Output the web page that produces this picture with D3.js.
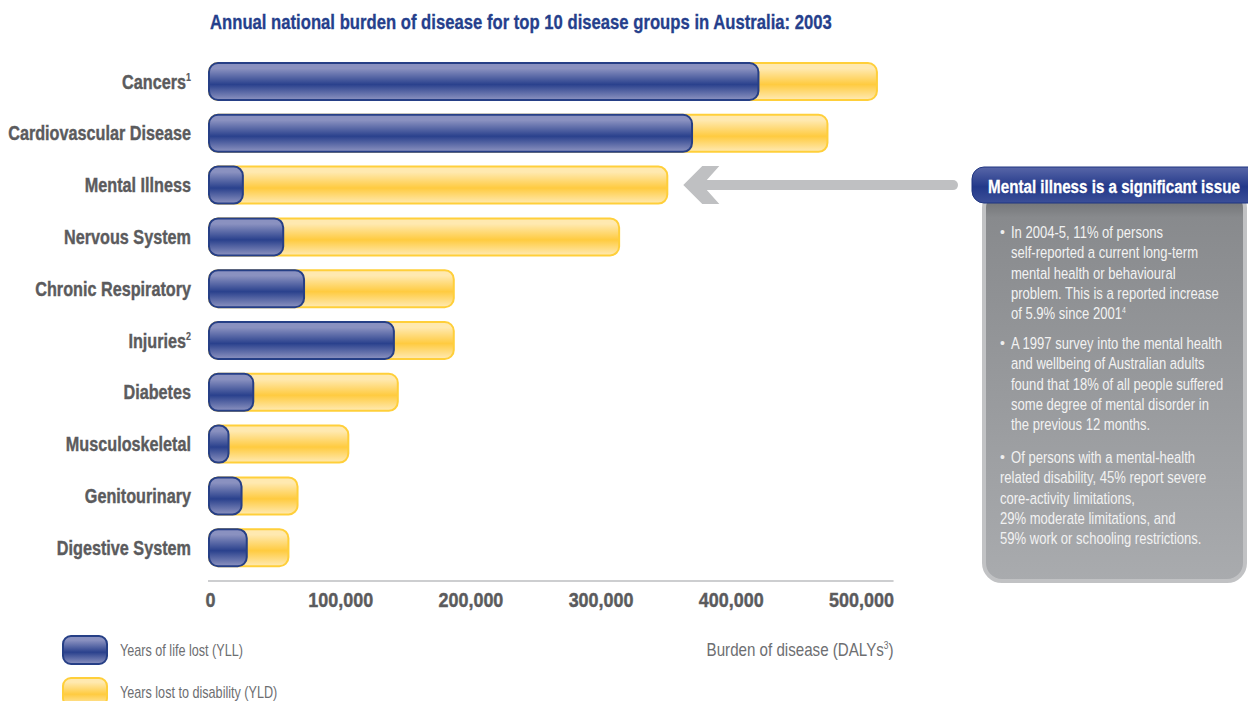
<!DOCTYPE html>
<html>
<head>
<meta charset="utf-8">
<script src="https://cdn.jsdelivr.net/npm/d3@7"></script>
<style>
    body { margin: 0; background: #fff; }
    svg text { font-family: "Liberation Sans", Arial, sans-serif; }
</style>
</head>
<body>
<svg id="chart" width="1248" height="701"></svg>
<script>
// disease groups, top to bottom
const categories = ["Cancers", "Cardiovascular Disease", "Mental Illness", "Nervous System",
    "Chronic Respiratory", "Injuries", "Diabetes", "Musculoskeletal", "Genitourinary", "Digestive System"];
const footnotes = ["1", "", "", "", "", "2", "", "", "", ""];

// DALYs split into years of life lost and years lost to disability
const yll = [422000, 371000, 26000, 57000, 73000, 142000, 34000, 15000, 25000, 29000];
const yld = [91000, 104000, 326000, 258000, 115000, 46000, 111000, 92000, 43000, 32000];

const tickValues = [0, 100000, 200000, 300000, 400000, 500000];

const titleText = "Annual national burden of disease for top 10 disease groups in Australia: 2003";
const calloutTitle = "Mental illness is a significant issue";
const calloutBullets = [
    { indent: true, lines: ["In 2004-5, 11% of persons", "self-reported a current long-term",
        "mental health or behavioural", "problem. This is a reported increase", "of 5.9% since 2001"], note: "4" },
    { indent: true, lines: ["A 1997 survey into the mental health", "and wellbeing of Australian adults",
        "found that 18% of all people suffered", "some degree of mental disorder in", "the previous 12 months."], note: "" },
    { indent: false, lines: ["Of persons with a mental-health", "related disability, 45% report severe",
        "core-activity limitations,", "29% moderate limitations, and", "59% work or schooling restrictions."], note: "" }
];

let data = categories.map((c, i) => ({ name: c, note: footnotes[i], yll: yll[i], yld: yld[i], total: yll[i] + yld[i] }));

// squeeze text horizontally, the original uses a condensed face
function squeeze(sel, f) {
    sel.each(function() {
        let t = d3.select(this);
        let x0 = +t.attr("x") || 0;
        t.attr("transform", `translate(${x0},0) scale(${f},1) translate(${-x0},0)`);
    });
}
function factor(node, target) {
    return target / node.getComputedTextLength();
}

let svg = d3.select("#chart");
let defs = svg.append("defs");

function gloss(id, light, dark, light2) {
    let g = defs.append("linearGradient").attr("id", id)
        .attr("x1", 0).attr("y1", 0).attr("x2", 0).attr("y2", 1);
    g.append("stop").attr("offset", "0%").attr("stop-color", light);
    g.append("stop").attr("offset", "15%").attr("stop-color", light);
    g.append("stop").attr("offset", "58%").attr("stop-color", dark);
    g.append("stop").attr("offset", "100%").attr("stop-color", light2);
}
gloss("blueGrad", "#8a91c0", "#2a418d", "#8d93c0");
gloss("yellowGrad", "#ffe9b0", "#ffcb40", "#ffeab4");

let boxGrad = defs.append("linearGradient").attr("id", "boxGrad")
    .attr("x1", 0).attr("y1", 0).attr("x2", 0).attr("y2", 1);
boxGrad.append("stop").attr("offset", "0%").attr("stop-color", "#646669");
boxGrad.append("stop").attr("offset", "7%").attr("stop-color", "#888a8d");
boxGrad.append("stop").attr("offset", "100%").attr("stop-color", "#a9abae");

let headGrad = defs.append("linearGradient").attr("id", "headGrad")
    .attr("x1", 0).attr("y1", 0).attr("x2", 0).attr("y2", 1);
headGrad.append("stop").attr("offset", "0%").attr("stop-color", "#5866a8");
headGrad.append("stop").attr("offset", "55%").attr("stop-color", "#23398a");
headGrad.append("stop").attr("offset", "100%").attr("stop-color", "#3b4f98");

// scales
let x = d3.scaleLinear().domain([0, 500000]).range([210, 861]);
let y = d3.scaleBand().domain(categories).range([55.6, 573.6]).paddingInner(0.285).paddingOuter(0.1425);

// title
let title = svg.append("text")
    .attr("x", 210).attr("y", 29)
    .attr("font-size", 20).attr("font-weight", "bold").attr("fill", "#253f8c")
    .attr("stroke", "#253f8c").attr("stroke-width", 0.3)
    .text(titleText);
squeeze(title, factor(title.node(), 622));

// category labels
let labels = svg.append("g").selectAll("text").data(data).enter().append("text")
    .attr("x", 191)
    .attr("y", d => y(d.name) + y.bandwidth() / 2)
    .attr("dy", "0.36em")
    .attr("text-anchor", "end")
    .attr("font-size", 20).attr("font-weight", "bold").attr("fill", "#5b5b5d")
    .attr("stroke", "#5b5b5d").attr("stroke-width", 0.4);
labels.append("tspan").text(d => d.name);
labels.append("tspan").attr("font-size", 11).attr("stroke-width", 0.2).attr("dy", -8).text(d => d.note);
squeeze(labels, factor(labels.nodes()[1], 183));

// bars: yellow total behind, blue YLL in front
let bars = svg.append("g");
bars.selectAll("rect.yld").data(data).enter().append("rect")
    .attr("class", "yld")
    .attr("x", x(0) - 1)
    .attr("y", d => y(d.name))
    .attr("width", d => x(d.total) - x(0))
    .attr("height", y.bandwidth())
    .attr("rx", 9)
    .attr("fill", "url(#yellowGrad)")
    .attr("stroke", "#ffcf3a").attr("stroke-width", 2);

bars.selectAll("rect.yll").data(data).enter().append("rect")
    .attr("class", "yll")
    .attr("x", x(0) - 1)
    .attr("y", d => y(d.name))
    .attr("width", d => x(d.yll) - x(0))
    .attr("height", y.bandwidth())
    .attr("rx", 9)
    .attr("fill", "url(#blueGrad)")
    .attr("stroke", "#263f86").attr("stroke-width", 2);

// x axis
let axisY = 581;
svg.append("line")
    .attr("x1", x(0) - 2).attr("x2", x(525000))
    .attr("y1", axisY).attr("y2", axisY)
    .attr("stroke", "#bdbec0").attr("stroke-width", 1.5);

let xAxis = svg.append("g")
    .attr("transform", "translate(0," + (axisY + 9) + ")")
    .call(d3.axisBottom(x).tickValues(tickValues).tickSize(0).tickFormat(d3.format(",")));
xAxis.select(".domain").remove();
let tickText = xAxis.selectAll("text")
    .attr("font-size", 20).attr("font-weight", "bold").attr("fill", "#5b5b5d")
    .attr("stroke", "#5b5b5d").attr("stroke-width", 0.4)
    .style("font-family", null);
squeeze(tickText, factor(tickText.nodes()[1], 65));

let dalys = svg.append("text")
    .attr("x", x(525000)).attr("y", 650).attr("dy", "0.35em")
    .attr("text-anchor", "end")
    .attr("font-size", 18).attr("fill", "#6d6e71");
dalys.append("tspan").text("Burden of disease (DALYs");
dalys.append("tspan").attr("font-size", 10).attr("dy", -7).text("3");
dalys.append("tspan").attr("dy", 7).text(")");
squeeze(dalys, factor(dalys.node(), 187));

// legend
let legend = [
    { label: "Years of life lost (YLL)", fill: "url(#blueGrad)", stroke: "#263f86", y: 650 },
    { label: "Years lost to disability (YLD)", fill: "url(#yellowGrad)", stroke: "#ffcf3a", y: 692 }
];
let lg = svg.append("g").selectAll("g").data(legend).enter().append("g");
lg.append("rect")
    .attr("x", 63).attr("y", d => d.y - 14)
    .attr("width", 44).attr("height", 28).attr("rx", 8)
    .attr("fill", d => d.fill).attr("stroke", d => d.stroke).attr("stroke-width", 2);
let legText = lg.append("text")
    .attr("x", 120).attr("y", d => d.y).attr("dy", "0.35em")
    .attr("font-size", 17).attr("fill", "#6d6e71")
    .text(d => d.label);
squeeze(legText, factor(legText.nodes()[0], 123));

// arrow pointing at the mental illness bar
let mental = data[2];
let ay = y(mental.name) + y.bandwidth() / 2;
let ax = x(mental.total) + 15;
svg.append("line")
    .attr("x1", ax + 18).attr("x2", 953)
    .attr("y1", ay).attr("y2", ay)
    .attr("stroke", "#bfc0c2").attr("stroke-width", 10).attr("stroke-linecap", "round");
svg.append("path")
    .attr("d", `M${ax},${ay} L${ax + 19},${ay - 19} L${ax + 36},${ay - 19} L${ax + 19},${ay} L${ax + 36},${ay + 19} L${ax + 19},${ay + 19} Z`)
    .attr("fill", "#bfc0c2");

// callout box
let call = svg.append("g");
call.append("rect")
    .attr("x", 984).attr("y", 190).attr("width", 261).attr("height", 391).attr("rx", 18)
    .attr("fill", "url(#boxGrad)").attr("stroke", "#c1c2c4").attr("stroke-width", 4);
call.append("rect")
    .attr("x", 972).attr("y", 167).attr("width", 300).attr("height", 36).attr("rx", 12)
    .attr("fill", "url(#headGrad)").attr("stroke", "#1f3580").attr("stroke-width", 1);
let head = call.append("text")
    .attr("x", 1114).attr("y", 186).attr("dy", "0.36em")
    .attr("text-anchor", "middle")
    .attr("font-size", 19).attr("font-weight", "bold").attr("fill", "#fff")
    .attr("stroke", "#fff").attr("stroke-width", 0.3)
    .text(calloutTitle);
squeeze(head, factor(head.node(), 252));

let lineH = 20.3;
let starts = [232, 343, 457];
let bodyTexts = [];
calloutBullets.forEach((b, bi) => {
    let g = call.append("g");
    g.append("text")
        .attr("x", 1000).attr("y", starts[bi]).attr("dy", "0.35em")
        .attr("font-size", 14).attr("fill", "#eeeeee")
        .text("\u2022");
    b.lines.forEach((ln, li) => {
        let tx = (b.indent || li === 0) ? 1011 : 1000;
        let t = g.append("text")
            .attr("x", tx).attr("y", starts[bi] + li * lineH).attr("dy", "0.35em")
            .attr("font-size", 17).attr("fill", "#f2f2f2")
            .text(ln);
        if (li === b.lines.length - 1 && b.note) {
            t.append("tspan").attr("font-size", 9).attr("dy", -6).text(b.note);
        }
        bodyTexts.push(t.node());
    });
});
let bodySel = d3.selectAll(bodyTexts);
squeeze(bodySel, factor(bodyTexts[3], 208));
</script>
</body>
</html>
